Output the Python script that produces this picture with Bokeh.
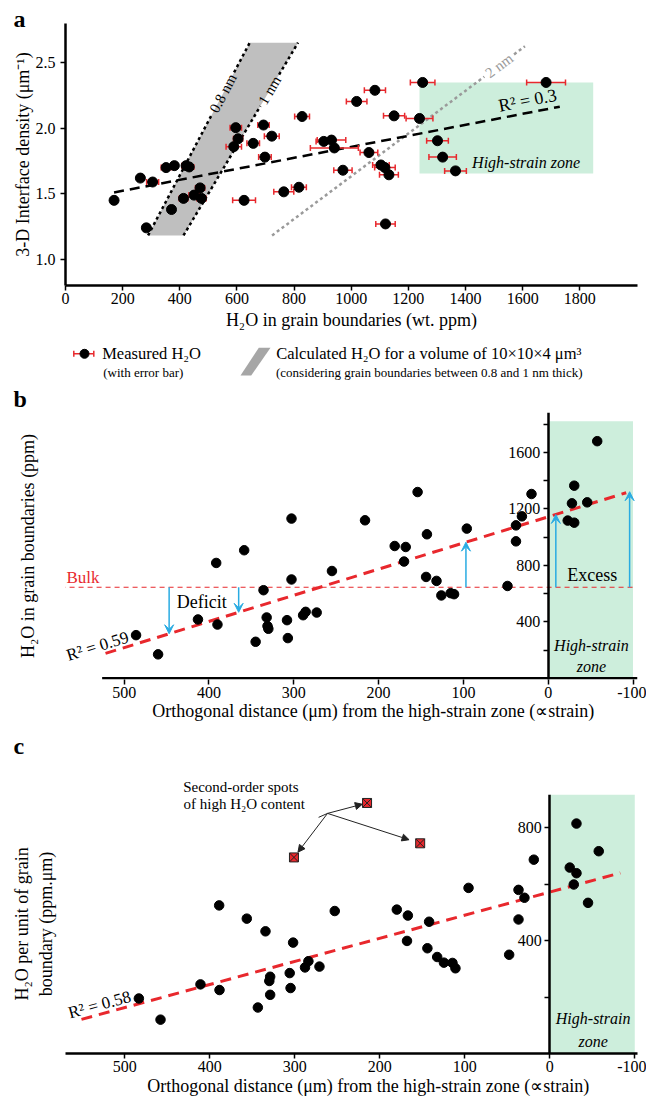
import numpy as np
from bokeh.plotting import figure
from bokeh.models import (ColumnDataSource, Whisker, TeeHead, Label, FixedTicker, Title,
                          Range1d, LinearAxis, Arrow, VeeHead, NormalHead)
from bokeh.layouts import column
from bokeh.embed import file_html
from bokeh.resources import INLINE

SERIF = "Liberation Serif"
RED = "#e8282d"
GREEN = "#cdeedc"
BLUE = "#29abe2"
GREY = "#bfbfbf"

# ---------------- Panel a data ----------------
a_h2o = [170, 262, 305, 283, 352, 381, 422, 433, 371, 413, 450, 471, 476, 596, 604, 589, 657,
         625, 693, 722, 698, 764, 817, 828, 904, 931, 941, 1083, 1019, 971, 1062, 1104, 1118,
         1132, 1120, 1150, 1239, 1250, 1302, 1320, 1365, 1682]
a_density = [1.45, 1.62, 1.59, 1.24, 1.70, 1.715, 1.715, 1.705, 1.38, 1.465, 1.49, 1.545, 1.465,
             2.005, 1.92, 1.86, 1.885, 1.45, 2.025, 1.94, 1.78, 1.515, 1.55, 2.09, 1.90, 1.91,
             1.85, 2.29, 2.205, 1.68, 1.815, 1.72, 1.70, 1.645, 1.27, 2.095, 2.075, 2.35, 1.905,
             1.78, 1.675, 2.35]
a_err = [6, 8, 21, 8, 17, 10, 15, 16, 10, 15, 18, 16, 16, 20, 16, 27, 22, 40, 20, 26, 22, 35, 26,
         26, 27, 50, 84, 37, 36, 32, 31, 29, 36, 33, 34, 37, 47, 43, 38, 48, 38, 68]
a_ticks_x = [0, 200, 400, 600, 800, 1000, 1200, 1400, 1600, 1800]
a_ticks_y = [1.0, 1.5, 2.0, 2.5]
a_fit_x = [170, 1730]
a_fit_y = [1.51, 2.165]
calc_y = [1.182, 2.654]
calc_08_x = [289, 645]
calc_10_x = [413, 814]
calc_20_x = [723, 1608]
calc_20_y = [1.182, 2.626]
zone_a = dict(left=[1239], right=[1847], bottom=[1.655], top=[2.35])

# ---------------- Panel b data ----------------
b_dist = [486, 460, 413, 390, 391.5, 358.5, 335.7, 345, 332, 331, 330, 308, 307, 302.7, 302.7,
          289, 286, 273, 255, 216, 181, 168, 170, 154, 143, 144, 131.7, 126, 115, 111, 96, 48,
          38, 38, 31, 19.7, -23, -30.7, -28, -30.7, -46, -57.8]
b_h2o = [306, 170, 417, 381, 817, 907, 624, 259, 431, 370, 351, 412, 285, 1131, 700, 447, 471,
         466, 760, 1119, 937, 930, 827, 1319, 1020, 718, 690, 587, 603, 596, 1060, 654, 1083,
         970, 1147, 1305, 1117, 1102, 1239, 1364, 1246, 1679]
bulk_h2o = 645
bulk_x = [575, -100]
b_fit_x = [522, -92]
b_fit_y = [177, 1314]
deficit_x = [447, 365]
excess_x = [97, -9, -96]
b_ticks_x = [500, 400, 300, 200, 100, 0, -100]
b_ticks_y = [400, 800, 1200, 1600]
b_minor_y = [200, 600, 1000, 1400, 1800]
zone_b = dict(left=[0], right=[-100], bottom=[0], top=[1820])
b_axis_x = [526, -105.3]

# ---------------- Panel c data ----------------
c_dist = [483.5, 458, 411, 388.6, 389, 356.5, 334.5, 343.5, 329, 330, 329, 306, 305, 302, 288,
          284, 271, 253, 180, 167, 168, 142, 144, 132.5, 124.6, 114.5, 111, 95.6, 47.8, 36.8,
          36.8, 29.8, 18.8, -23.5, -31.4, -28.2, -31.4, -45, -57.6]
c_h2o = [195, 120, 245, 225, 525, 478, 433, 163, 272, 257, 208, 285, 232, 393, 305, 327, 308,
         505, 510, 489, 399, 467, 373, 342, 322, 321, 302, 587, 350, 580, 475, 552, 687, 659,
         639, 599, 815, 534, 717]
spot_dist = [301, 215, 152.5]
spot_h2o = [695, 888, 745]
spot_note_xy = (261.5, 851)
spot_hook_xy = (272, 837)
c_fit_x = [551, -83]
c_fit_y = [121, 640]
c_ticks_x = [500, 400, 300, 200, 100, 0, -100]
c_ticks_y = [400, 800]
c_minor_y = [200, 600]
zone_c = dict(left=[0], right=[-100], bottom=[0], top=[918])

XLABEL = "Orthogonal distance (μm) from the high-strain zone (∝strain)"
FRAME_L, FRAME_R = 65, 9   # shared left / right borders (column aligns frames)


def style_fig(p):
    p.grid.visible = False
    p.outline_line_color = None
    p.background_fill_color = "white"
    p.border_fill_color = "white"


def style_axis(ax, size="16px"):
    ax.axis_line_width = 2.5
    ax.axis_line_color = "black"
    ax.major_tick_out = 5
    ax.major_tick_in = 0
    ax.major_tick_line_width = 1.5
    ax.minor_tick_out = 5
    ax.minor_tick_in = 0
    ax.minor_tick_line_width = 1.5
    ax.major_label_text_font = SERIF
    ax.major_label_text_font_size = size
    ax.major_label_text_color = "black"
    ax.axis_label_text_font = SERIF
    ax.axis_label_text_font_style = "normal"
    ax.axis_label_text_font_size = "18px"
    ax.axis_label_text_color = "black"


def label_only_axis(ax, text, standoff):
    ax.ticker = FixedTicker(ticks=[])
    ax.axis_line_color = None
    ax.major_tick_line_color = None
    ax.minor_tick_line_color = None
    ax.major_tick_out = 0
    ax.major_tick_in = 0
    ax.minor_tick_out = 0
    ax.minor_tick_in = 0
    ax.major_label_text_font_size = "0px"
    ax.axis_label = text
    ax.axis_label_text_font = SERIF
    ax.axis_label_text_font_style = "normal"
    ax.axis_label_text_font_size = "18px"
    ax.axis_label_text_color = "black"
    ax.axis_label_standoff = standoff


def lab(p, x, y, text, size="17px", align="left", baseline="middle", angle=0,
        color="black", style="normal"):
    p.add_layout(Label(x=x, y=y, text=text, text_font=SERIF, text_font_size=size,
                       text_align=align, text_baseline=baseline, angle=angle,
                       angle_units="deg", text_color=color, text_font_style=style))


def side_title(p, text, side, offset, size, style="normal", standoff=0, valign="bottom"):
    p.add_layout(Title(text=text, align="left", offset=offset, standoff=standoff,
                       text_font=SERIF, text_font_size=size, text_font_style=style,
                       text_color="black", vertical_align=valign), side)


def gapped(xs, ys, y_mid, half):
    """Split a straight line so that a label can sit on it (gap around y_mid)."""
    lo, hi = y_mid - half, y_mid + half
    return ([xs[0], np.interp(lo, ys, xs), np.nan, np.interp(hi, ys, xs), xs[1]],
            [ys[0], lo, np.nan, hi, ys[1]])


# ================= Panel a =================
fa = figure(width=646, height=338, x_range=Range1d(0, 2002), y_range=Range1d(0.8, 2.8),
            output_backend="svg", toolbar_location=None,
            min_border_left=FRAME_L, min_border_right=FRAME_R, min_border_top=23,
            min_border_bottom=53)
style_fig(fa)
style_axis(fa.xaxis[0])
style_axis(fa.yaxis[0])
fa.xaxis[0].ticker = FixedTicker(ticks=a_ticks_x)
fa.yaxis[0].ticker = FixedTicker(ticks=a_ticks_y)
fa.yaxis[0].major_label_overrides = {1.0: "1.0", 1.5: "1.5", 2.0: "2.0", 2.5: "2.5"}
fa.xaxis[0].major_label_standoff = 2
fa.yaxis[0].major_label_standoff = 5
fa.xaxis[0].axis_label = "H₂O in grain boundaries (wt. ppm)"
fa.xaxis[0].axis_label_standoff = 3
fa.yaxis[0].axis_label = "3-D Interface density (μm⁻¹)"
fa.yaxis[0].axis_label_standoff = 0
side_title(fa, "a", "above", -52, "24px", style="bold", standoff=-16)

lbl_08_y, lbl_10_y, lbl_20_y = 2.267, 2.29, 2.479

fa.quad(source=ColumnDataSource(zone_a), left="left", right="right", bottom="bottom",
        top="top", fill_color=GREEN, line_color=None, level="image")
fa.patch(calc_08_x + calc_10_x[::-1], calc_y + calc_y[::-1], fill_color=GREY,
         line_color=None, level="image")
gx, gy = gapped(calc_08_x, calc_y, lbl_08_y, 0.16)
fa.line(gx, gy, line_color="black", line_width=2.5, line_dash="3 3", level="underlay")
gx, gy = gapped(calc_10_x, calc_y, lbl_10_y, 0.12)
fa.line(gx, gy, line_color="black", line_width=2.5, line_dash="3 3", level="underlay")
gx, gy = gapped(calc_20_x, calc_20_y, lbl_20_y, 0.085)
fa.line(gx, gy, line_color="#9a9a9a", line_width=2.5, line_dash="3 3", level="underlay")
fa.line(a_fit_x, a_fit_y, line_color="black", line_width=2.5, line_dash="10 6", level="underlay")

a_src = ColumnDataSource(dict(x=a_h2o, y=a_density,
                              lo=list(np.array(a_h2o) - np.array(a_err)),
                              hi=list(np.array(a_h2o) + np.array(a_err))))
fa.add_layout(Whisker(source=a_src, base="y", lower="lo", upper="hi", dimension="width",
                      line_color=RED, line_width=1.5, level="underlay",
                      upper_head=TeeHead(size=6, line_color=RED, line_width=1.5),
                      lower_head=TeeHead(size=6, line_color=RED, line_width=1.5)))
fa.scatter("x", "y", source=a_src, size=10, fill_color="black", line_color="black")

lab(fa, float(np.interp(lbl_08_y, calc_y, calc_08_x)), lbl_08_y, "0.8 nm", size="15px",
    align="center", angle=62.4)
lab(fa, float(np.interp(lbl_10_y, calc_y, calc_10_x)), lbl_10_y, "1 nm", size="15px",
    align="center", angle=59.4)
lab(fa, float(np.interp(lbl_20_y, calc_20_y, calc_20_x)), lbl_20_y, "2 nm", size="15px",
    align="center", angle=37, color="#9a9a9a")
lab(fa, 1617, 2.214, "R² = 0.3", size="18px", align="center", angle=10.9)
lab(fa, 1423, 1.738, "High-strain zone", size="16px", style="italic")

# ================= Legend strip =================
fl = figure(width=646, height=42, x_range=Range1d(FRAME_L, 646 - FRAME_R),
            y_range=Range1d(0, 42), x_axis_type=None, y_axis_type=None,
            output_backend="svg", toolbar_location=None,
            min_border_left=FRAME_L, min_border_right=FRAME_R, min_border_top=0,
            min_border_bottom=0)
style_fig(fl)
row1, row2 = 26.7, 7.7
fl.segment(x0=[73.3], y0=[row1], x1=[93.3], y1=[row1], line_color=RED, line_width=1.5)
fl.segment(x0=[73.3, 93.3], y0=[row1 - 3, row1 - 3], x1=[73.3, 93.3], y1=[row1 + 3, row1 + 3],
           line_color=RED, line_width=1.5)
fl.scatter([84], [row1], size=9, fill_color="black", line_color="black")
fl.patch([240, 250.7, 270, 258.3], [5, 5, 32.7, 32.7], fill_color="#a6a6a6", line_color=None)
lab(fl, 101.7, row1, "Measured H₂O", size="16.5px")
lab(fl, 102.7, row2, "(with error bar)", size="13px")
lab(fl, 275.7, row1, "Calculated H₂O for a volume of 10×10×4 μm³", size="16.5px")
lab(fl, 275.5, row2, "(considering grain boundaries between 0.8 and 1 nm thick)", size="13px")

# ================= Panel b =================
fb = figure(width=646, height=391, x_range=Range1d(569.2, -105.3), y_range=Range1d(-8, 1882),
            output_backend="svg", toolbar_location=None,
            min_border_left=FRAME_L, min_border_right=FRAME_R, min_border_top=32,
            min_border_bottom=92)
style_fig(fb)
style_axis(fb.xaxis[0])
fb.xaxis[0].ticker = FixedTicker(ticks=b_ticks_x)
fb.xaxis[0].major_label_overrides = {-100: "-100"}
fb.xaxis[0].axis_line_color = None
fb.xaxis[0].major_label_standoff = 2
label_only_axis(fb.yaxis[0], "H₂O in grain boundaries (ppm)", 28)
yb = LinearAxis(fixed_location=0, ticker=FixedTicker(ticks=b_ticks_y, minor_ticks=b_minor_y))
style_axis(yb)
yb.major_label_standoff = 3
fb.add_layout(yb, "left")
side_title(fb, "b", "above", -52, "24px", style="bold", standoff=2)
side_title(fb, XLABEL, "below", 86.7, "18px", valign="top")
side_title(fb, "c", "below", -52, "24px", style="bold", standoff=20, valign="top")

fb.quad(source=ColumnDataSource(zone_b), left="left", right="right", bottom="bottom",
        top="top", fill_color=GREEN, line_color=None, level="image")
fb.line(b_axis_x, [0, 0], line_color="black", line_width=2.5)
fb.line(bulk_x, [bulk_h2o, bulk_h2o], line_color=RED, line_width=1.2, line_dash="5 4")
fb.line(b_fit_x, b_fit_y, line_color=RED, line_width=3, line_dash="11 7")
fb.scatter(b_dist, b_h2o, size=9.5, fill_color="black", line_color="black")

b_coef = np.polyfit(b_fit_x, b_fit_y, 1)
arr_x = deficit_x + excess_x
arr_src = ColumnDataSource(dict(x0=arr_x, y0=[bulk_h2o] * len(arr_x), x1=arr_x,
                                y1=list(np.polyval(b_coef, arr_x))))
fb.add_layout(Arrow(source=arr_src, x_start="x0", y_start="y0", x_end="x1", y_end="y1",
                    line_color=BLUE, line_width=1.5,
                    end=VeeHead(size=9, fill_color=BLUE, line_color=BLUE, line_width=1)))

lab(fb, 568, 716, "Bulk", size="17px", color=RED)
lab(fb, 438, 541, "Deficit", size="18px")
lab(fb, -22.4, 730, "Excess", size="18px")
lab(fb, 531.5, 228, "R² = 0.59", size="17px", align="center", angle=17.2)
lab(fb, -51, 235, "High-strain", size="16px", align="center", style="italic")
lab(fb, -51, 82, "zone", size="16px", align="center", style="italic")

# ================= Panel c =================
fc = figure(width=646, height=329, x_range=Range1d(569.8, -103.2), y_range=Range1d(0, 918),
            output_backend="svg", toolbar_location=None,
            min_border_left=FRAME_L, min_border_right=FRAME_R, min_border_top=23,
            min_border_bottom=47)
style_fig(fc)
style_axis(fc.xaxis[0])
fc.xaxis[0].ticker = FixedTicker(ticks=c_ticks_x)
fc.xaxis[0].major_label_overrides = {-100: "-100"}
fc.xaxis[0].major_label_standoff = 2
label_only_axis(fc.yaxis[0], "H₂O per unit of grain\nboundary (ppm.μm)", 10)
yc = LinearAxis(fixed_location=0, ticker=FixedTicker(ticks=c_ticks_y, minor_ticks=c_minor_y))
style_axis(yc)
yc.major_label_standoff = 3
fc.add_layout(yc, "left")
side_title(fc, "Second-order spots", "above", 117.7, "15px")
side_title(fc, XLABEL, "below", 81.7, "18px", standoff=2, valign="top")

fc.quad(source=ColumnDataSource(zone_c), left="left", right="right", bottom="bottom",
        top="top", fill_color=GREEN, line_color=None, level="image")
fc.line(c_fit_x, c_fit_y, line_color=RED, line_width=3, line_dash="11 7")
fc.scatter(c_dist, c_h2o, size=9.5, fill_color="black", line_color="black")
fc.scatter(spot_dist, spot_h2o, marker="square_x", size=9, fill_color=RED,
           line_color="#222222", line_width=1)

jx, jy = spot_note_xy
sx = np.array(spot_dist)
sy = np.array(spot_h2o)
shrink = 0.12
spot_src = ColumnDataSource(dict(x0=[jx] * 3, y0=[jy] * 3,
                                 x1=list(sx + (jx - sx) * shrink),
                                 y1=list(sy + (jy - sy) * shrink)))
fc.add_layout(Arrow(source=spot_src, x_start="x0", y_start="y0", x_end="x1", y_end="y1",
                    line_color="#222222", line_width=1,
                    end=NormalHead(size=7, fill_color="#222222", line_color="#222222")))
fc.line([spot_hook_xy[0], jx], [spot_hook_xy[1], jy], line_color="#222222", line_width=1)

lab(fc, 431, 884.6, "of high H₂O content", size="15px")
lab(fc, 529.8, 173, "R² = 0.58", size="17px", align="center", angle=15.2)
lab(fc, -51, 123, "High-strain", size="16px", align="center", style="italic")
lab(fc, -51, 41.5, "zone", size="16px", align="center", style="italic")

layout = column(fa, fl, fb, fc, spacing=0)
open("out.html", "w").write(file_html(layout, INLINE))
